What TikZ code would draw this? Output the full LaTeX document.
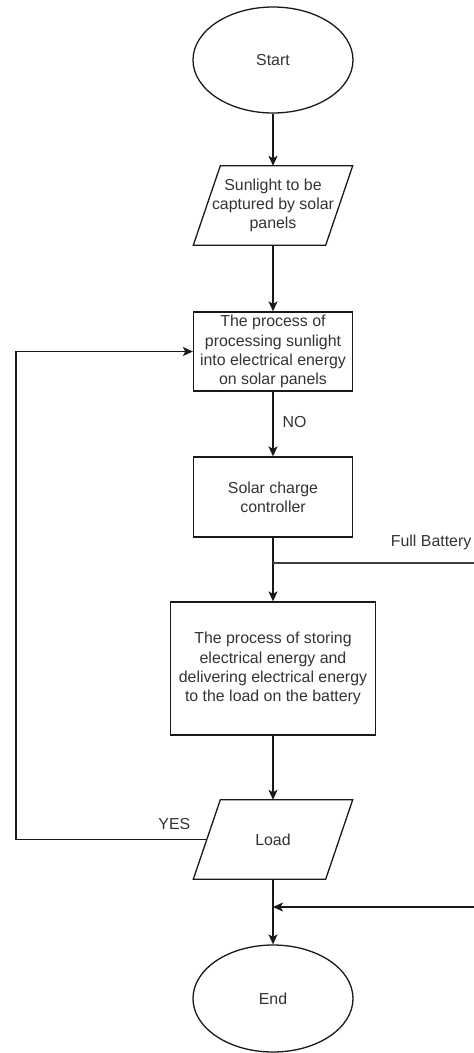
\documentclass[tikz,border=0pt]{standalone}
\usepackage{fontspec}
\setmainfont{Liberation Sans}
\usepackage{tikz}
\usetikzlibrary{
    positioning,
    arrows.meta,
    shapes.geometric
}

\begin{document}
\begin{tikzpicture}[x=1pt, y=-1pt,
    font=\fontsize{15.9}{19.2}\selectfont,
    every node/.style={text=black!80},
    term/.style={draw=black!90, ellipse, line width=1.3pt, minimum width=160pt,
                 minimum height=106pt, inner sep=0pt},
    pbox/.style={draw=black!90, rectangle, line width=1.3pt, minimum width=159pt,
                 minimum height=79pt, align=center, inner sep=2pt},
    iolin/.style={draw=black!90, line width=1.3pt, line join=miter},
    iobox/.style={rectangle, minimum width=132pt, minimum height=79pt, align=center, inner sep=1pt,
                  append after command={\pgfextra{
                    \draw[iolin] ([xshift=13.5pt]\tikzlastnode.north west) -- ([xshift=13.5pt]\tikzlastnode.north east)
                      -- ([xshift=-13.5pt]\tikzlastnode.south east) -- ([xshift=-13.5pt]\tikzlastnode.south west) -- cycle;}}},
    arr/.style={-{Stealth[length=10pt, width=9pt, inset=2.5pt]}, line width=1.4pt, draw=black!90},
    wire/.style={line width=1.4pt, draw=black!75},
    labl/.style={inner sep=0pt}]

    \useasboundingbox (0,0) rectangle (474,1053);

    % Main flow
    \node[term] (start) at (273,60) {Start};
    \node[iobox] (sun) at (273,205.5)
      {Sunlight to be\\captured by solar\\panels};
    \node[pbox] (proc) at (273,351.5)
      {The process of\\processing sunlight\\into electrical energy\\on solar panels};
    \node[pbox, minimum height=80pt] (solar) at (273,497)
      {Solar charge\\controller};
    \node[pbox, minimum width=205pt, minimum height=133pt] (store) at (273,668.5)
      {The process of storing\\electrical energy and\\delivering electrical energy\\to the load on the battery};
    \node[iobox] (load) at (273,839.5) {Load};
    \node[term, minimum height=107pt] (end) at (273,998.5) {End};

    \draw[arr] (start) -- (sun);
    \draw[arr] (sun) -- (proc);
    \draw[arr] (proc) -- node[labl, pos=0.47, right=9pt]{NO} (solar);
    \draw[arr] (solar) -- (store);
    \draw[arr] (store) -- (load);
    \draw[arr] (load) -- (end);

    % Full battery branch (leaves the picture on the right)
    \coordinate (fullR) at (474,563);
    \draw[wire] (solar.south |- fullR) -- (fullR)
      node[labl, anchor=south east, yshift=13pt, xshift=-2pt]{Full Battery};
    \coordinate (backR) at (474,907);
    \draw[arr] (backR) -- (load.south |- backR);

    % Loop back from load
    \coordinate (loopL) at (16,0);
    \draw[arr] (load.west) -- node[labl, pos=0.17, above=9pt]{YES} (load.west -| loopL) |- (proc.west);

\end{tikzpicture}
\end{document}
